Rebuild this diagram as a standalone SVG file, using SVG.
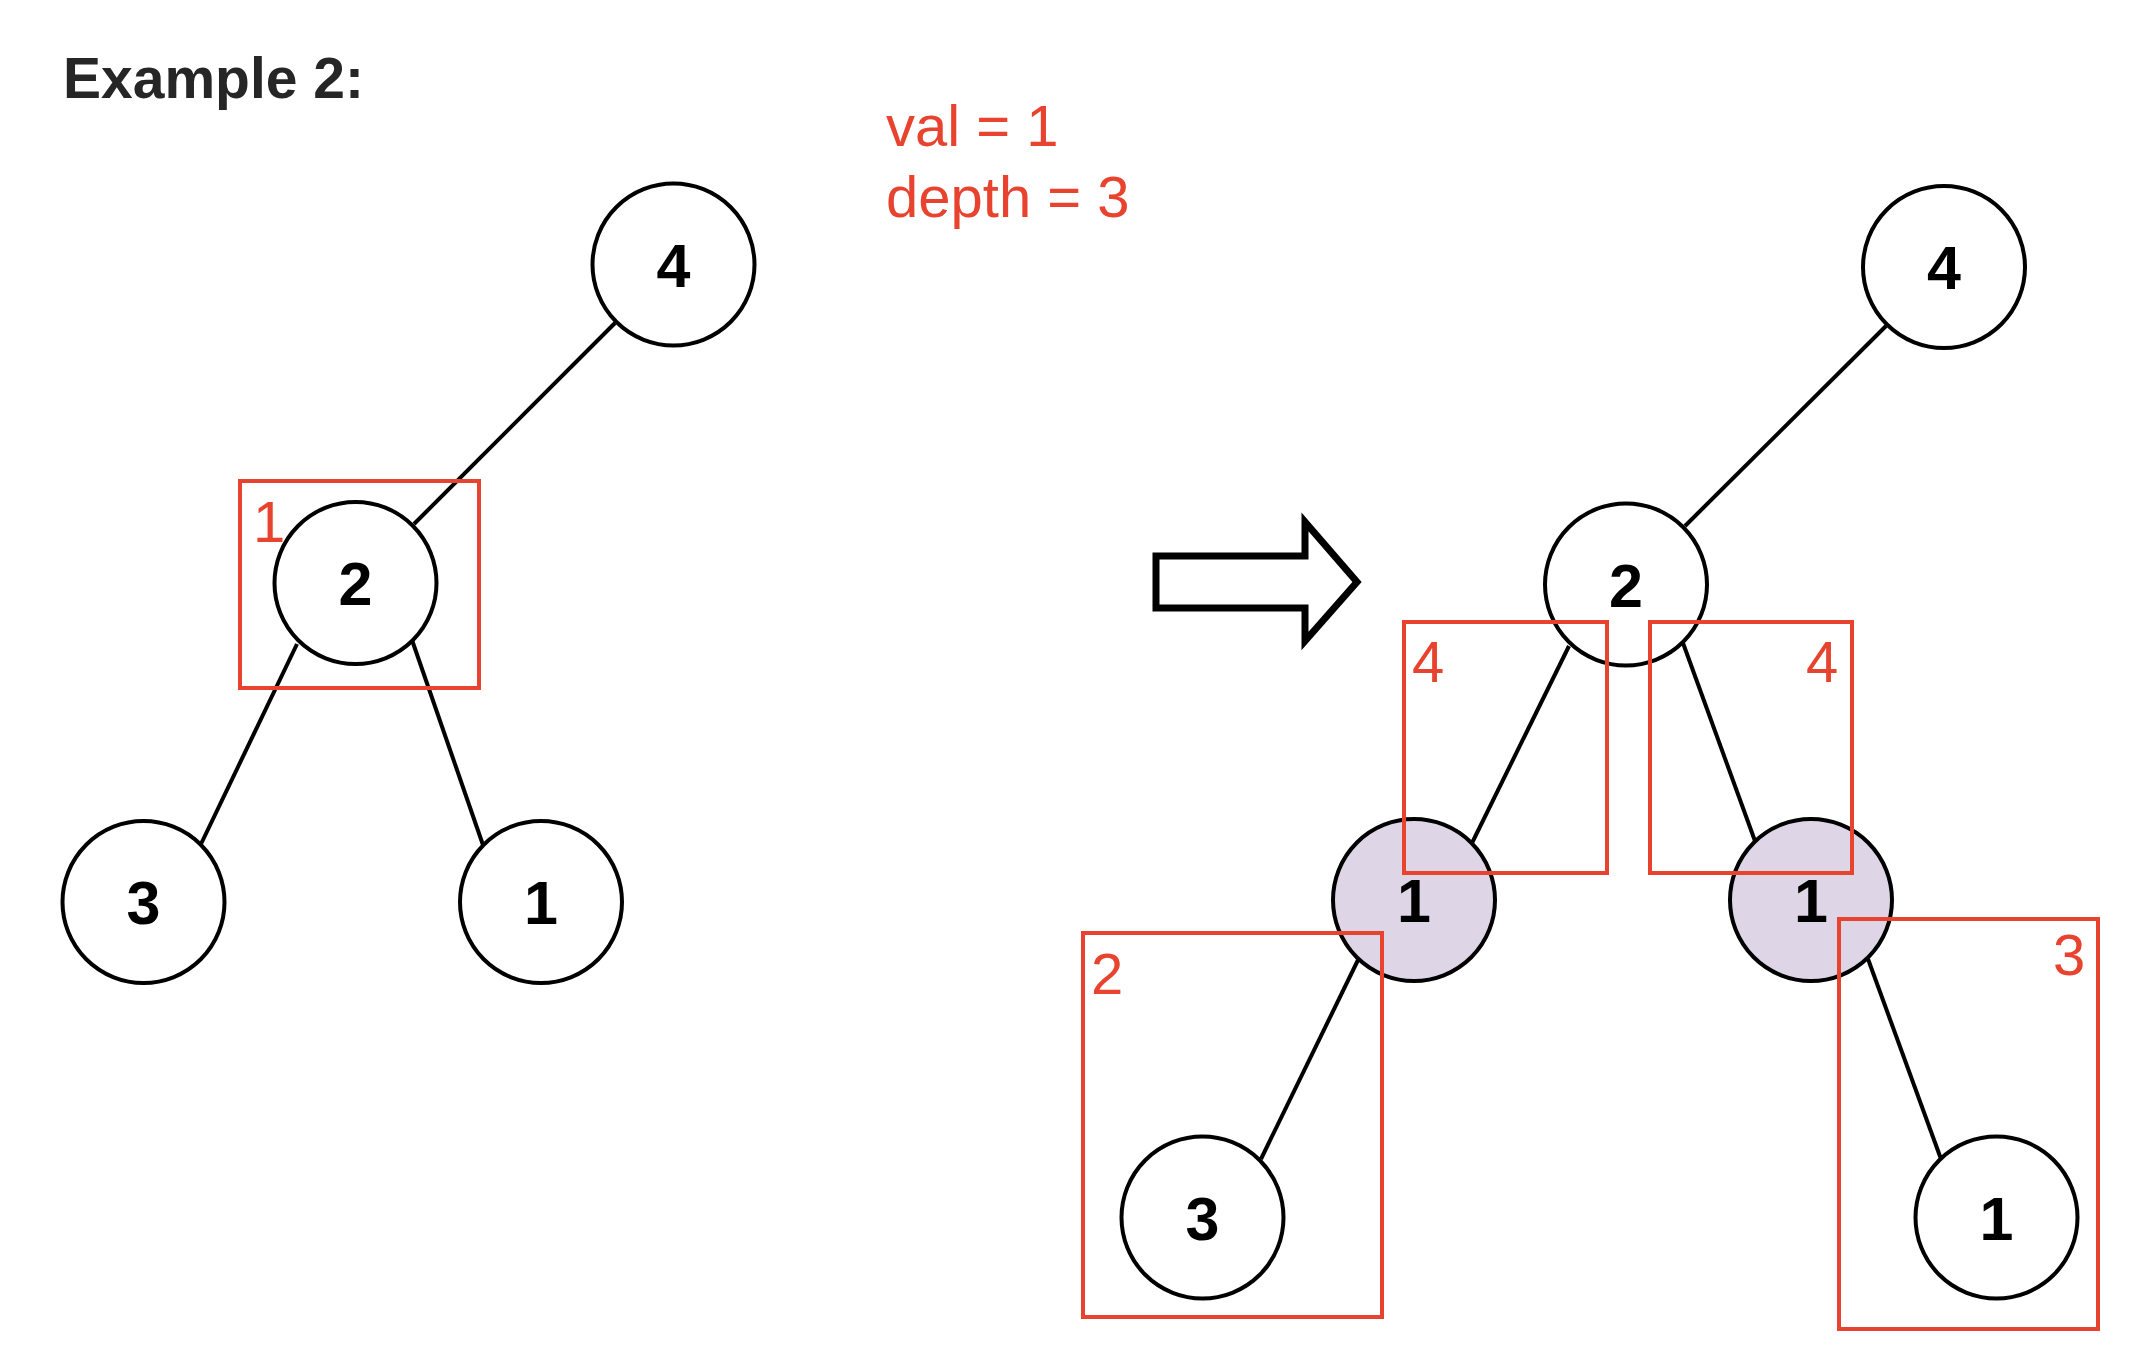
<svg xmlns="http://www.w3.org/2000/svg" width="2152" height="1356" viewBox="0 0 2152 1356">
<style>
.node{fill:#ffffff;stroke:#000000;stroke-width:4}
.hl{fill:#DED6E6;stroke:#000000;stroke-width:4}
.lbl{font-family:"Liberation Sans",Arial,sans-serif;font-size:61px;font-weight:bold;fill:#000000;text-anchor:middle}
.edge{stroke:#000000;stroke-width:4;fill:none}
.box{fill:none;stroke:#E8432E;stroke-width:4}
.red{font-family:"Liberation Sans",Arial,sans-serif;font-size:58px;fill:#E8432E}
</style>
<rect width="2152" height="1356" fill="#ffffff"/>
<text x="63" y="98" font-family="Liberation Sans, Arial, sans-serif" font-size="57" font-weight="bold" fill="#262626">Example 2:</text>
<text class="red" x="886" y="146">val = 1</text>
<text class="red" x="886" y="217" font-size="59">depth = 3</text>
<g id="connectors">
<line class="edge" x1="414" y1="524" x2="615" y2="323"/>
<line class="edge" x1="297" y1="644" x2="201" y2="844"/>
<line class="edge" x1="412" y1="640" x2="483" y2="845"/>
<line class="edge" x1="1685" y1="526" x2="1886" y2="326"/>
<line class="edge" x1="1569" y1="646" x2="1472" y2="843"/>
<line class="edge" x1="1683" y1="643" x2="1755" y2="841"/>
<line class="edge" x1="1358" y1="960" x2="1261" y2="1159"/>
<line class="edge" x1="1868" y1="959" x2="1941" y2="1159"/>
</g>
<g id="l4"><circle class="node" cx="673.5" cy="264.5" r="81"/><text class="lbl" x="673.5" y="286.5">4</text></g>
<g id="l2"><circle class="node" cx="355.5" cy="583" r="81"/><text class="lbl" x="355.5" y="605">2</text></g>
<g id="l3"><circle class="node" cx="143.5" cy="902" r="81"/><text class="lbl" x="143.5" y="924">3</text></g>
<g id="l1"><circle class="node" cx="541" cy="902" r="81"/><text class="lbl" x="541" y="924">1</text></g>
<g id="r4"><circle class="node" cx="1944" cy="267" r="81"/><text class="lbl" x="1944" y="289">4</text></g>
<g id="r2"><circle class="node" cx="1626" cy="584.5" r="81"/><text class="lbl" x="1626" y="606.5">2</text></g>
<g id="r1a"><circle class="hl" cx="1414" cy="900" r="81"/><text class="lbl" x="1414" y="922">1</text></g>
<g id="r1b"><circle class="hl" cx="1811" cy="900" r="81"/><text class="lbl" x="1811" y="922">1</text></g>
<g id="r3"><circle class="node" cx="1202.5" cy="1217.5" r="81"/><text class="lbl" x="1202.5" y="1239.5">3</text></g>
<g id="r1c"><circle class="node" cx="1996.5" cy="1217.5" r="81"/><text class="lbl" x="1996.5" y="1239.5">1</text></g>
<g id="arrow"><polygon points="1156,556 1305,556 1305,522 1357,582 1305,641 1305,608 1156,608" fill="#ffffff" stroke="#000000" stroke-width="7" stroke-linejoin="miter"/></g>
<g id="boxes">
<rect class="box" x="240" y="481" width="239" height="207"/>
<text class="red" x="253" y="542">1</text>
<rect class="box" x="1404" y="622" width="203" height="251"/>
<text class="red" x="1412" y="682">4</text>
<rect class="box" x="1650" y="622" width="202" height="251"/>
<text class="red" x="1806" y="682">4</text>
<rect class="box" x="1083" y="933" width="299" height="384"/>
<text class="red" x="1091" y="994">2</text>
<rect class="box" x="1839" y="919" width="259" height="410"/>
<text class="red" x="2053" y="975">3</text>
</g>
</svg>
